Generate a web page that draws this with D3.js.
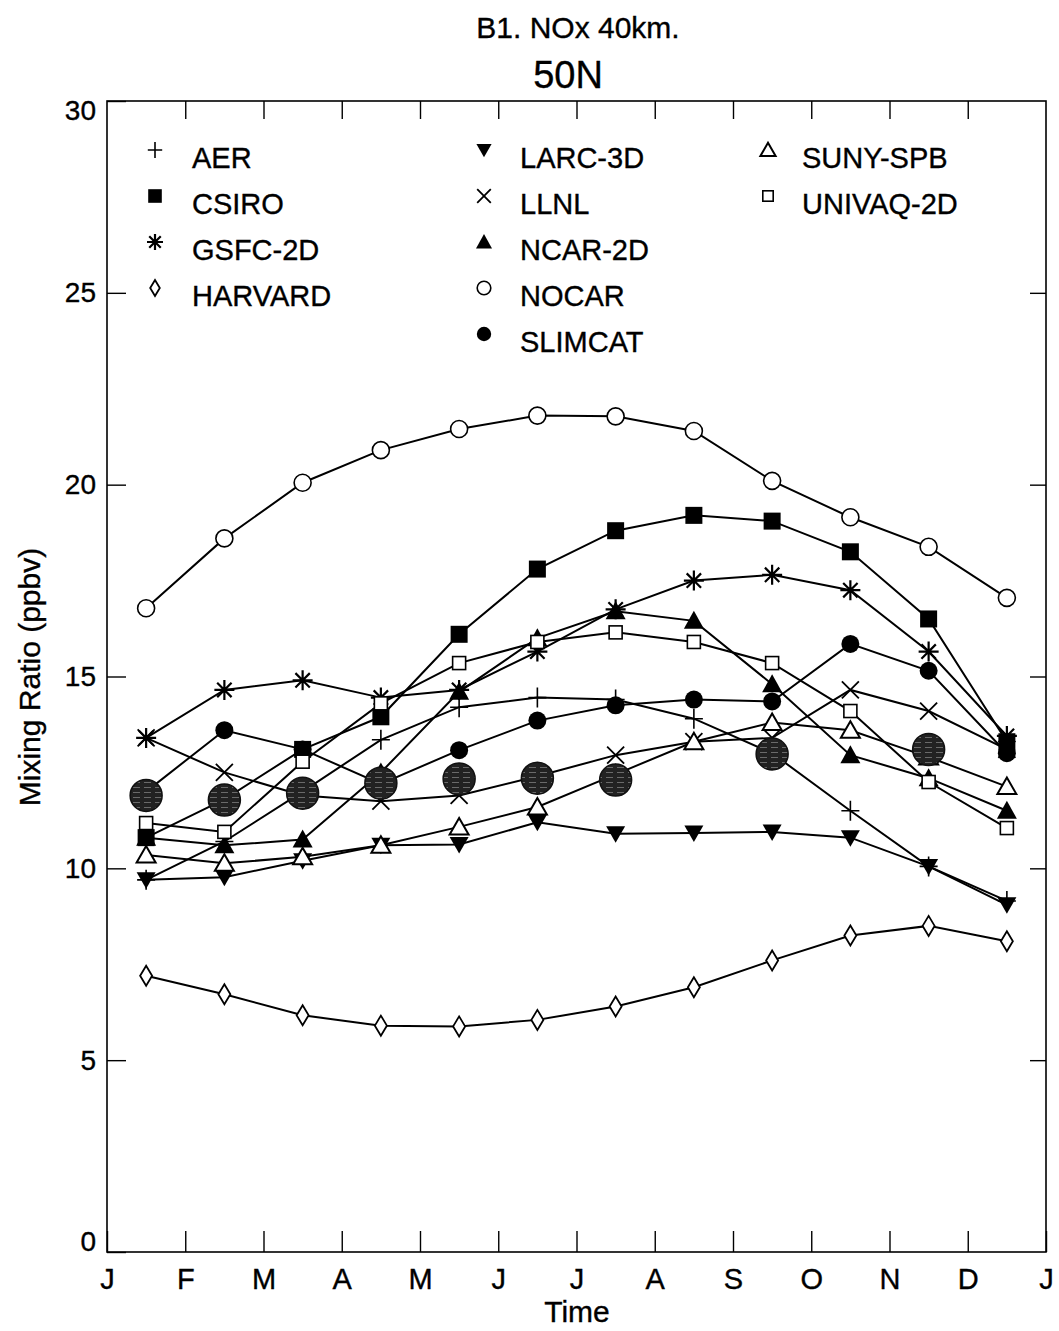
<!DOCTYPE html>
<html>
<head>
<meta charset="utf-8">
<script src="https://cdn.jsdelivr.net/npm/d3@7"></script>
<style>
  body { margin: 0; background: #fff; }
  text { font-family: "Liberation Sans", Arial, Helvetica, sans-serif; fill: #000; stroke: #000; stroke-width: 0.35px; }
</style>
</head>
<body>
<svg id="chart" width="1059" height="1331"></svg>
<script>
// Monthly NOx mixing ratio (ppbv) at 40 km, 50N, one value per month (mid-month)
const monthLabels = ["J", "F", "M", "A", "M", "J", "J", "A", "S", "O", "N", "D", "J"];
const yTickValues = [0, 5, 10, 15, 20, 25, 30];

const aer      = [9.7, 10.7, 12.0, 13.35, 14.2, 14.45, 14.4, 13.9, 13.0, 11.5, 10.05, 9.15];
const csiro    = [10.8, 11.8, 13.1, 13.95, 16.1, 17.8, 18.8, 19.2, 19.05, 18.25, 16.5, 13.3];
const gsfc2d   = [13.4, 14.65, 14.9, 14.45, 14.65, 15.65, 16.75, 17.5, 17.65, 17.25, 15.65, 13.45];
const harvard  = [7.2, 6.72, 6.17, 5.9, 5.88, 6.05, 6.4, 6.9, 7.6, 8.25, 8.5, 8.1];
const larc3d   = [9.7, 9.77, 10.2, 10.6, 10.62, 11.2, 10.9, 10.92, 10.95, 10.8, 10.05, 9.05];
const llnl     = [13.4, 12.5, 11.9, 11.75, 11.9, 12.4, 12.95, 13.3, 13.4, 14.65, 14.1, 13.1];
const ncar2d   = [10.8, 10.6, 10.75, 12.5, 14.6, 16.0, 16.7, 16.45, 14.8, 12.95, 12.35, 11.5];
const nocar    = [16.78, 18.6, 20.05, 20.9, 21.45, 21.8, 21.78, 21.4, 20.1, 19.15, 18.38, 17.05];
const slimcat  = [12.0, 13.6, 13.1, 12.2, 13.08, 13.85, 14.25, 14.4, 14.35, 15.85, 15.15, 13.0];
const sunySpb  = [10.35, 10.13, 10.3, 10.6, 11.08, 11.6, 12.45, 13.3, 13.8, 13.6, 12.9, 12.13];
const univaq2d = [11.18, 10.95, 12.78, 14.3, 15.35, 15.9, 16.15, 15.9, 15.35, 14.1, 12.25, 11.05];

// Observed climatology (no value for some months)
const observed = [11.9, 11.78, 11.96, 12.22, 12.33, 12.35, 12.3, null, 12.98, null, 13.1, null];

const seriesNames = ["AER", "CSIRO", "GSFC-2D", "HARVARD", "LARC-3D", "LLNL",
                     "NCAR-2D", "NOCAR", "SLIMCAT", "SUNY-SPB", "UNIVAQ-2D"];
const seriesValues = [aer, csiro, gsfc2d, harvard, larc3d, llnl,
                      ncar2d, nocar, slimcat, sunySpb, univaq2d];
const seriesSymbols = ["plus", "filledSquare", "asterisk", "diamond", "filledDown", "cross",
                       "filledUp", "openCircle", "filledCircle", "openUp", "openSquare"];

const svg = d3.select("#chart");
const plotLeft = 107, plotRight = 1046, plotTop = 101, plotBottom = 1252;

const x = d3.scaleLinear().domain([0, 12]).range([plotLeft, plotRight]);
const y = d3.scaleLinear().domain([0, 30]).range([plotBottom, plotTop]);

// halftone fill for the observation discs
const defs = svg.append("defs");
const pat = defs.append("pattern").attr("id", "halftone")
  .attr("patternUnits", "userSpaceOnUse").attr("width", 11).attr("height", 5);
pat.append("rect").attr("width", 11).attr("height", 5).attr("fill", "#222");
pat.append("rect").attr("x", 1).attr("y", 2).attr("width", 7).attr("height", 1).attr("fill", "#6a6a6a");

// frame
svg.append("rect").attr("x", plotLeft).attr("y", plotTop)
  .attr("width", plotRight - plotLeft).attr("height", plotBottom - plotTop)
  .attr("fill", "none").attr("stroke", "#000").attr("stroke-width", 1.6);

// axes with inward ticks
const monthTicks = d3.range(13);
const xAxis = d3.axisBottom(x).tickValues(monthTicks)
  .tickFormat(i => monthLabels[i]).tickSizeInner(-21).tickSizeOuter(0).tickPadding(16);
const gx = svg.append("g").attr("transform", `translate(0,${plotBottom})`).call(xAxis);
gx.select(".domain").remove();
gx.selectAll("line").attr("stroke", "#000").attr("stroke-width", 1.4);
gx.selectAll("text").style("font-size", "29px").attr("font-family", null);

const xTop = d3.axisTop(x).tickValues(monthTicks.slice(1, 12)).tickFormat("")
  .tickSizeInner(-18).tickSizeOuter(0);
const gxt = svg.append("g").attr("transform", `translate(0,${plotTop})`).call(xTop);
gxt.select(".domain").remove();
gxt.selectAll("line").attr("stroke", "#000").attr("stroke-width", 1.4);

const yAxis = d3.axisLeft(y).tickValues(yTickValues).tickFormat(d3.format("d"))
  .tickSizeInner(-19).tickSizeOuter(0).tickPadding(11);
const gy = svg.append("g").attr("transform", `translate(${plotLeft},0)`).call(yAxis);
gy.select(".domain").remove();
gy.selectAll("line").attr("stroke", "#000").attr("stroke-width", 1.4);
gy.selectAll("text").style("font-size", "28px").attr("font-family", null);
// end labels sit just inside the frame
gy.selectAll(".tick").filter(d => d === 0).select("text").attr("dy", "-0.05em");
gy.selectAll(".tick").filter(d => d === 30).select("text").attr("dy", "0.66em");

const yRight = d3.axisRight(y).tickValues(yTickValues.slice(1, 6)).tickFormat("")
  .tickSizeInner(-16).tickSizeOuter(0);
const gyr = svg.append("g").attr("transform", `translate(${plotRight},0)`).call(yRight);
gyr.select(".domain").remove();
gyr.selectAll("line").attr("stroke", "#000").attr("stroke-width", 1.4);

// titles
svg.append("text").attr("x", 578).attr("y", 38).attr("text-anchor", "middle")
  .style("font-size", "30px").text("B1. NOx 40km.");
svg.append("text").attr("x", 568).attr("y", 88).attr("text-anchor", "middle")
  .style("font-size", "38px").text("50N");
svg.append("text").attr("x", 577).attr("y", 1322).attr("text-anchor", "middle")
  .style("font-size", "30px").text("Time");
svg.append("text").attr("transform", "translate(40,677) rotate(-90)")
  .attr("text-anchor", "middle").style("font-size", "30px").text("Mixing Ratio (ppbv)");

// marker glyphs
function drawSymbol(g, type, k) {
  const sw = 1.8;
  switch (type) {
    case "plus":
      g.append("path").attr("d", `M${-9*k},0H${9*k}M0,${-10*k}V${10*k}`)
        .attr("stroke", "#000").attr("stroke-width", 1.6).attr("fill", "none"); break;
    case "filledSquare":
      g.append("rect").attr("x", -8.5*k).attr("y", -8.5*k).attr("width", 17*k).attr("height", 17*k)
        .attr("fill", "#000"); break;
    case "asterisk": {
      const r = 10*k, d = r * 0.72;
      g.append("path").attr("d", `M${-r},0H${r}M0,${-r}V${r}M${-d},${-d}L${d},${d}M${-d},${d}L${d},${-d}`)
        .attr("stroke", "#000").attr("stroke-width", 2.2).attr("fill", "none"); break;
    }
    case "diamond":
      g.append("path").attr("d", `M0,${-10*k}L${6*k},0L0,${10*k}L${-6*k},0Z`)
        .attr("fill", "#fff").attr("stroke", "#000").attr("stroke-width", sw); break;
    case "filledDown":
      g.append("path").attr("d", `M${-9.5*k},${-7.5*k}L${9.5*k},${-7.5*k}L0,${9*k}Z`)
        .attr("fill", "#000"); break;
    case "cross":
      g.append("path").attr("d", `M${-8.5*k},${-8.5*k}L${8.5*k},${8.5*k}M${-8.5*k},${8.5*k}L${8.5*k},${-8.5*k}`)
        .attr("stroke", "#000").attr("stroke-width", 1.8).attr("fill", "none"); break;
    case "filledUp":
      g.append("path").attr("d", `M${-10*k},${8*k}L${10*k},${8*k}L0,${-10*k}Z`)
        .attr("fill", "#000"); break;
    case "openCircle":
      g.append("circle").attr("r", 8.5*k)
        .attr("fill", "#fff").attr("stroke", "#000").attr("stroke-width", 1.6); break;
    case "filledCircle":
      g.append("circle").attr("r", 9*k).attr("fill", "#000"); break;
    case "openUp":
      g.append("path").attr("d", `M${-9.5*k},${7.5*k}L${9.5*k},${7.5*k}L0,${-9*k}Z`)
        .attr("fill", "#fff").attr("stroke", "#000").attr("stroke-width", 2); break;
    case "openSquare":
      g.append("rect").attr("x", -6.5*k).attr("y", -6.5*k).attr("width", 13*k).attr("height", 13*k)
        .attr("fill", "#fff").attr("stroke", "#000").attr("stroke-width", 1.6); break;
  }
}

const line = d3.line().x((d, i) => x(i + 0.5)).y(d => y(d));

// model curves
const plot = svg.append("g");
seriesValues.forEach(vals => {
  plot.append("path").datum(vals).attr("d", line)
    .attr("fill", "none").attr("stroke", "#000").attr("stroke-width", 2);
});
seriesValues.forEach((vals, s) => {
  vals.forEach((v, i) => {
    const g = plot.append("g").attr("transform", `translate(${x(i + 0.5)},${y(v)})`);
    drawSymbol(g, seriesSymbols[s], 1);
  });
});

// observations
observed.forEach((v, i) => {
  if (v === null) return;
  plot.append("circle").attr("cx", x(i + 0.5)).attr("cy", y(v)).attr("r", 16)
    .attr("fill", "url(#halftone)").attr("stroke", "#111").attr("stroke-width", 1.5);
});

// legend in three columns
const legendCols = [{ sx: 155, tx: 192 }, { sx: 484, tx: 520 }, { sx: 768, tx: 802 }];
const legendColOf = [0, 0, 0, 0, 1, 1, 1, 1, 1, 2, 2];
const legendRowOf = [0, 1, 2, 3, 0, 1, 2, 3, 4, 0, 1];
const legend = svg.append("g");
seriesNames.forEach((name, s) => {
  const col = legendCols[legendColOf[s]];
  const baseY = 168 + legendRowOf[s] * 46;
  const g = legend.append("g").attr("transform", `translate(${col.sx},${baseY - 18})`);
  drawSymbol(g, seriesSymbols[s], 0.8);
  legend.append("text").attr("x", col.tx).attr("y", baseY)
    .style("font-size", "29px").text(name);
});
</script>
</body>
</html>
